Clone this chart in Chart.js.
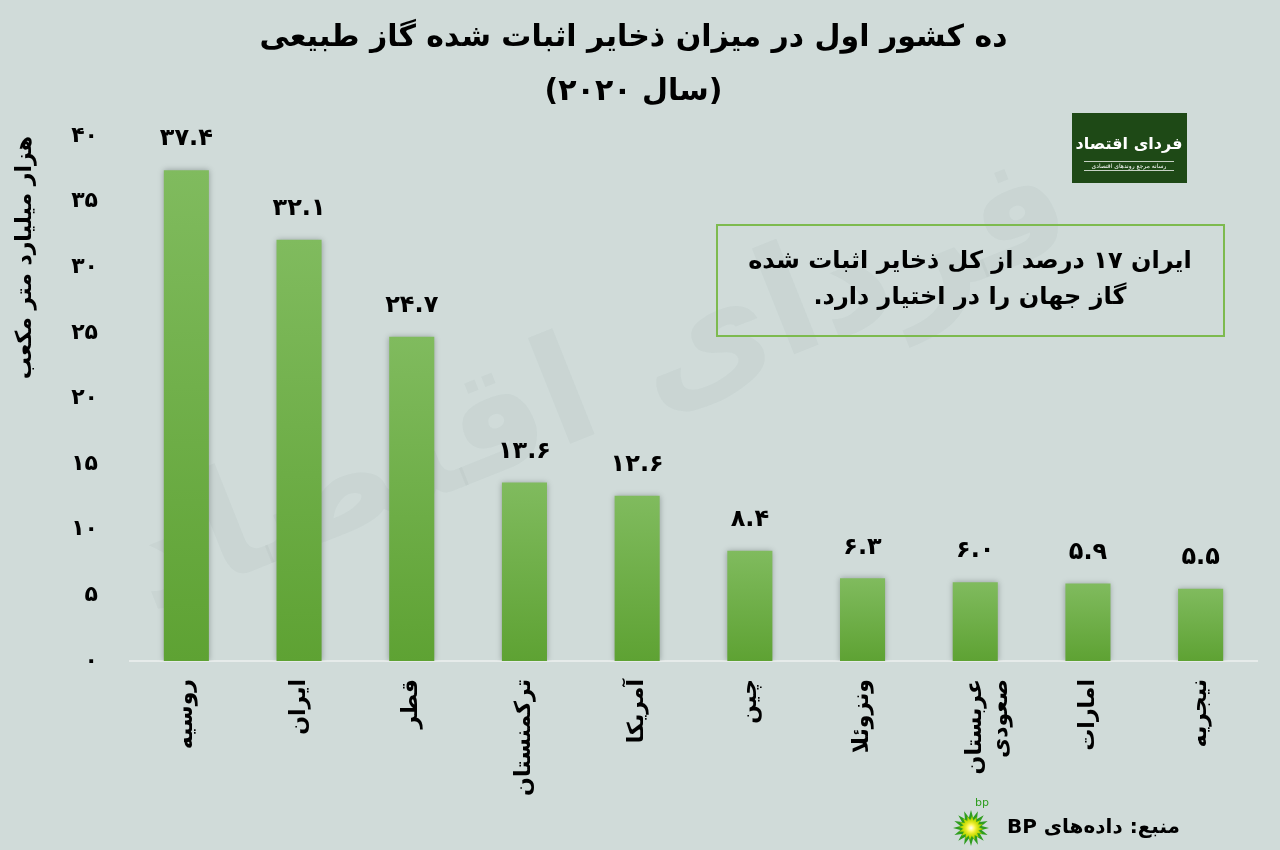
<!DOCTYPE html>
<html lang="fa">
<head>
<meta charset="utf-8">
<title>ذخایر اثبات شده گاز طبیعی</title>
<style>
  html, body { margin: 0; padding: 0; background: #d0dbd9; }
  #wrap { width: 1280px; height: 850px; }
</style>
<script src="https://cdn.jsdelivr.net/npm/chart.js@4.4.1/dist/chart.umd.min.js"></script>
</head>
<body>
<div id="wrap"><canvas id="c" width="1280" height="850" dir="rtl"></canvas></div>
<script>
// ---- data ----
const countries = ['روسیه', 'ایران', 'قطر', 'ترکمنستان', 'آمریکا', 'چین', 'ونزوئلا', ['عربستان', 'صعودی'], 'امارات', 'نیجریه'];
const reserves = [37.4, 32.1, 24.7, 13.6, 12.6, 8.4, 6.3, 6.0, 5.9, 5.5];
const yMax = 40;
const yStep = 5;

// ---- texts ----
const titleLines = ['ده کشور اول در میزان ذخایر اثبات شده گاز طبیعی', '(سال ۲۰۲۰)'];
const yAxisTitle = 'هزار میلیارد متر مکعب';
const noteLines = ['ایران ۱۷ درصد از کل ذخایر اثبات شده', 'گاز جهان را در اختیار دارد.'];
const sourceText = 'منبع: داده‌های BP';
const brandName = 'فردای اقتصاد';
const brandTagline = 'رسانه مرجع روندهای اقتصادی';

const FONT = "'DejaVu Sans', sans-serif";
const BG = '#d0dbd9';

function toFa(s) {
  return String(s).replace(/\d/g, d => '۰۱۲۳۴۵۶۷۸۹'[d]);
}

// page background and faint brand watermark behind the bars
const backdrop = {
  id: 'backdrop',
  beforeDraw(chart) {
    const c = chart.ctx;
    c.direction = 'rtl';
    c.save();
    c.fillStyle = BG;
    c.fillRect(0, 0, chart.width, chart.height);
    c.translate(600, 390);
    c.rotate(-0.38);
    c.font = 'bold 150px ' + FONT;
    c.textAlign = 'center';
    c.textBaseline = 'middle';
    c.fillStyle = 'rgba(70, 100, 90, 0.045)';
    c.fillText(brandName, 0, 0);
    c.restore();
  }
};

// soft side shadow on the bars
const barShadow = {
  id: 'barShadow',
  beforeDatasetsDraw(chart) {
    const c = chart.ctx;
    c.save();
    c.shadowColor = 'rgba(30, 40, 40, 0.35)';
    c.shadowBlur = 6;
    c.shadowOffsetX = 0;
    c.shadowOffsetY = 0;
  },
  afterDatasetsDraw(chart) {
    chart.ctx.restore();
  }
};

function drawBP(c, cx, cy, r) {
  const n = 16;
  c.beginPath();
  for (let i = 0; i < n * 2; i++) {
    const a = i * Math.PI / n - Math.PI / 2;
    const rr = i % 2 ? r * 0.6 : r;
    c.lineTo(cx + rr * Math.cos(a), cy + rr * Math.sin(a));
  }
  c.closePath();
  c.fillStyle = '#2f9d1f';
  c.fill();
  c.beginPath();
  for (let i = 0; i < n * 2; i++) {
    const a = i * Math.PI / n - Math.PI / 2 + Math.PI / (2 * n);
    const rr = i % 2 ? r * 0.42 : r * 0.7;
    c.lineTo(cx + rr * Math.cos(a), cy + rr * Math.sin(a));
  }
  c.closePath();
  c.fillStyle = '#b8d800';
  c.fill();
  const g = c.createRadialGradient(cx, cy, 0, cx, cy, r * 0.55);
  g.addColorStop(0, '#ffffff');
  g.addColorStop(0.35, '#fff75a');
  g.addColorStop(1, 'rgba(240, 230, 0, 0)');
  c.beginPath();
  c.arc(cx, cy, r * 0.55, 0, Math.PI * 2);
  c.fillStyle = g;
  c.fill();
  c.fillStyle = '#2f9d1f';
  c.font = '11px ' + FONT;
  c.textAlign = 'center';
  c.textBaseline = 'middle';
  c.direction = 'ltr';
  c.fillText('bp', cx + 11, cy - 25);
  c.direction = 'rtl';
}

// value labels, note box, brand box and source line
const overlay = {
  id: 'overlay',
  afterDraw(chart) {
    const c = chart.ctx;
    c.save();
    c.direction = 'rtl';
    c.fillStyle = '#000';
    c.textAlign = 'center';
    c.textBaseline = 'middle';
    c.font = 'bold 24px ' + FONT;
    const meta = chart.getDatasetMeta(0);
    meta.data.forEach((bar, i) => {
      c.fillText(toFa(reserves[i].toFixed(1)), bar.x, bar.y - 31);
    });

    // note box
    c.strokeStyle = '#7dba4f';
    c.lineWidth = 2;
    c.strokeRect(717, 225, 507, 111);
    c.font = 'bold 24px ' + FONT;
    c.fillStyle = '#000';
    c.fillText(noteLines[0], 970, 262);
    c.fillText(noteLines[1], 970, 298);

    // brand box
    c.fillStyle = '#1e4916';
    c.fillRect(1072, 113, 115, 70);
    c.fillStyle = '#ffffff';
    c.font = 'bold 16px ' + FONT;
    c.fillText(brandName, 1129, 145);
    c.strokeStyle = 'rgba(255,255,255,0.75)';
    c.lineWidth = 1;
    c.beginPath();
    c.moveTo(1084, 161.5); c.lineTo(1174, 161.5);
    c.moveTo(1084, 170.5); c.lineTo(1174, 170.5);
    c.stroke();
    c.font = '6px ' + FONT;
    c.fillText(brandTagline, 1129, 166);

    // source
    c.fillStyle = '#000';
    c.font = 'bold 20px ' + FONT;
    c.textAlign = 'right';
    c.fillText(sourceText, 1180, 828);
    drawBP(c, 971, 828, 18);
    c.restore();
  }
};

function barGradient(ctx) {
  const chart = ctx.chart;
  if (!chart.chartArea || ctx.type !== 'data') return '#6fae49';
  const y = chart.scales.y;
  const top = y.getPixelForValue(ctx.raw);
  const bottom = y.getPixelForValue(0);
  const g = chart.ctx.createLinearGradient(0, top, 0, bottom);
  g.addColorStop(0, '#80bb5e');
  g.addColorStop(1, '#5ea233');
  return g;
}

const tickFont = { family: FONT, size: 22, weight: 'bold' };

new Chart(document.getElementById('c'), {
  type: 'bar',
  data: {
    labels: countries,
    datasets: [{
      data: reserves,
      backgroundColor: barGradient,
      borderWidth: 0,
      barPercentage: 0.8,
      categoryPercentage: 0.5
    }]
  },
  options: {
    responsive: false,
    animation: false,
    events: [],
    layout: { padding: { left: 10, right: 23, top: 0, bottom: 0 } },
    plugins: {
      legend: { display: false },
      tooltip: { enabled: false },
      title: {
        display: true,
        text: titleLines,
        color: '#000',
        font: { family: FONT, size: 30, weight: 'bold', lineHeight: 1.8 },
        padding: { top: 11, bottom: 17 }
      }
    },
    scales: {
      x: {
        grid: { display: false, drawTicks: false },
        border: { display: true, color: '#e6ebea', width: 2 },
        ticks: {
          color: '#000',
          font: tickFont,
          maxRotation: 90,
          minRotation: 90,
          autoSkip: false,
          padding: 18
        },
        afterFit(scale) { scale.height = 189; }
      },
      y: {
        min: 0,
        max: yMax,
        grid: { display: false, drawTicks: false },
        border: { display: false },
        ticks: {
          stepSize: yStep,
          color: '#000',
          font: tickFont,
          padding: 32,
          callback: v => toFa(v)
        },
        title: {
          display: true,
          text: yAxisTitle,
          align: 'end',
          color: '#000',
          font: { family: FONT, size: 22, weight: 'bold' },
          padding: { top: 2, bottom: 0 }
        },
        afterFit(scale) { scale.width = 120; }
      }
    }
  },
  plugins: [backdrop, barShadow, overlay]
});
</script>
</body>
</html>
